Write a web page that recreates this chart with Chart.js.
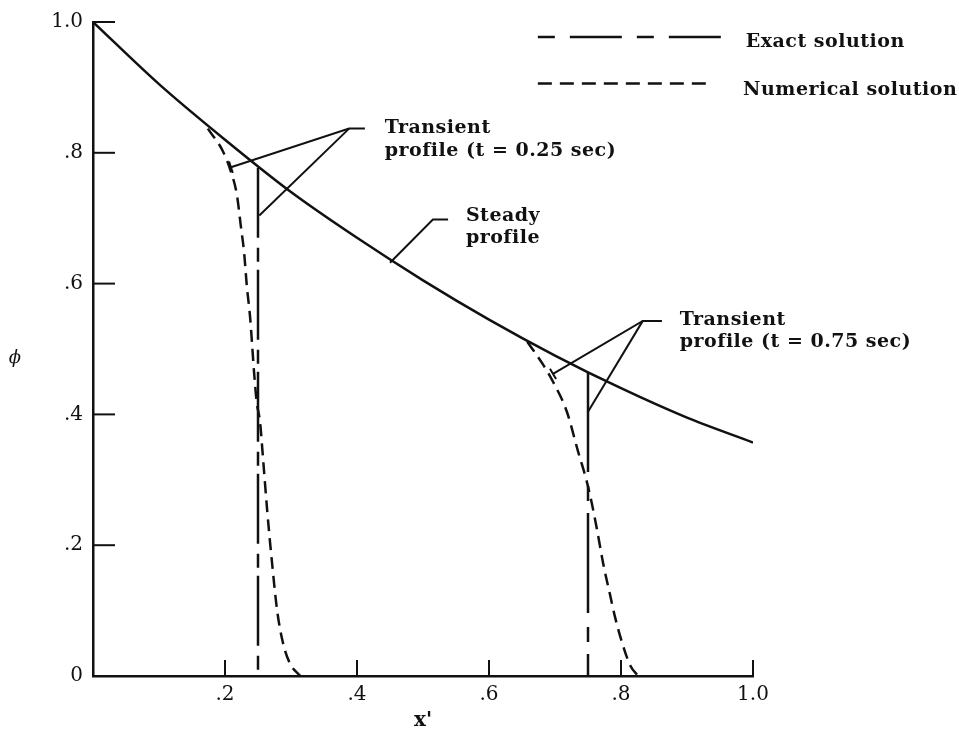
<!DOCTYPE html>
<html>
<head>
<meta charset="utf-8">
<script src="https://cdn.jsdelivr.net/npm/chart.js@4"></script>
<style>
  html, body { margin: 0; padding: 0; background: #fff; }
  #wrap { width: 959px; height: 731px; position: relative; }
</style>
</head>
<body>
<div id="wrap"><canvas id="phiChart"></canvas></div>
<script>
// steady profile (exact)
const steadyX = [0, 0.1, 0.2, 0.3, 0.4, 0.5, 0.6, 0.7, 0.8, 0.9, 1.0];
const steadyPhi = [1.0, 0.905, 0.82, 0.74, 0.67, 0.605, 0.545, 0.49, 0.44, 0.395, 0.357];

// transient profiles, exact solution (step front)
const exact25X = [0.25, 0.25];
const exact25Phi = [0.777, 0];
const exact75X = [0.75, 0.75];
const exact75Phi = [0.465, 0];

// transient profiles, numerical solution
const num25X = [0.174, 0.197, 0.209, 0.218, 0.224, 0.229, 0.233, 0.238, 0.241, 0.244, 0.248, 0.253, 0.258, 0.264, 0.271, 0.279, 0.288, 0.298, 0.314];
const num25Phi = [0.837, 0.802, 0.771, 0.736, 0.688, 0.647, 0.597, 0.549, 0.508, 0.465, 0.419, 0.389, 0.328, 0.252, 0.176, 0.100, 0.050, 0.020, 0];
const num75X = [0.658, 0.682, 0.697, 0.718, 0.735, 0.748, 0.756, 0.764, 0.773, 0.783, 0.791, 0.802, 0.814, 0.826];
const num75Phi = [0.511, 0.476, 0.450, 0.404, 0.343, 0.298, 0.263, 0.222, 0.172, 0.126, 0.090, 0.050, 0.016, 0];

// tick labels
const xTickLabels = ['', '.2', '.4', '.6', '.8', '1.0'];
const yTickLabels = ['0', '.2', '.4', '.6', '.8', '1.0'];

const INK = '#111';
const FONT = 'DejaVu Serif';

function pts(xs, ys) {
  return xs.map((x, i) => ({ x: x, y: ys[i] }));
}

// annotation layout, in data units
const labels = [
  { x: 0.442, y: [0.830, 0.795], text: ['Transient', 'profile (t = 0.25 sec)'] },
  { x: 0.565, y: [0.696, 0.662], text: ['Steady', 'profile'] },
  { x: 0.889, y: [0.536, 0.503], text: ['Transient', 'profile (t = 0.75 sec)'] }
];
const leaders = [
  [[0.412, 0.837], [0.388, 0.837], [0.209, 0.778]],
  [[0.388, 0.837], [0.252, 0.704]],
  [[0.538, 0.698], [0.515, 0.698], [0.450, 0.632]],
  [[0.862, 0.543], [0.833, 0.543], [0.697, 0.462]],
  [[0.833, 0.543], [0.750, 0.404]]
];
// small cross bars at the ends of leaders pointing at the numerical curves
const leaderBars = [
  { at: [0.209, 0.778], from: [0.388, 0.837] },
  { at: [0.697, 0.462], from: [0.833, 0.543] }
];
const legendRows = [
  { x0: 0.674, x1: 0.955, y: 0.977, dash: [17, 15, 52, 15], tx: 0.989, ty: 0.962, text: 'Exact solution' },
  { x0: 0.674, x1: 0.935, y: 0.906, dash: [14, 8], tx: 0.985, ty: 0.889, text: 'Numerical solution' }
];

const decorPlugin = {
  id: 'decor',
  afterDraw(chart) {
    const { ctx } = chart;
    const xs = chart.scales.x, ys = chart.scales.y;
    const px = v => xs.getPixelForValue(v);
    const py = v => ys.getPixelForValue(v);

    ctx.save();
    ctx.strokeStyle = INK;
    ctx.fillStyle = INK;
    ctx.lineCap = 'butt';

    // inward tick marks
    ctx.lineWidth = 2;
    ys.ticks.forEach(t => {
      if (t.value === 0) return;
      ctx.beginPath();
      ctx.moveTo(xs.left, py(t.value));
      ctx.lineTo(xs.left + 22, py(t.value));
      ctx.stroke();
    });
    xs.ticks.forEach(t => {
      if (t.value === 0) return;
      ctx.beginPath();
      ctx.moveTo(px(t.value), ys.bottom);
      ctx.lineTo(px(t.value), ys.bottom - 16);
      ctx.stroke();
    });

    // leader lines
    ctx.lineWidth = 2;
    leaders.forEach(line => {
      ctx.beginPath();
      line.forEach((p, i) => {
        if (i === 0) ctx.moveTo(px(p[0]), py(p[1]));
        else ctx.lineTo(px(p[0]), py(p[1]));
      });
      ctx.stroke();
    });
    leaderBars.forEach(b => {
      const ax = px(b.at[0]), ay = py(b.at[1]);
      const dx = ax - px(b.from[0]), dy = ay - py(b.from[1]);
      const len = Math.hypot(dx, dy);
      const nx = -dy / len * 6, ny = dx / len * 6;
      ctx.beginPath();
      ctx.moveTo(ax - nx, ay - ny);
      ctx.lineTo(ax + nx, ay + ny);
      ctx.stroke();
    });

    // text labels
    ctx.font = 'bold 19px "' + FONT + '"';
    ctx.letterSpacing = '0.5px';
    ctx.textAlign = 'left';
    ctx.textBaseline = 'alphabetic';
    labels.forEach(l => {
      l.text.forEach((s, i) => ctx.fillText(s, px(l.x), py(l.y[i])));
    });

    // legend
    ctx.lineWidth = 2.5;
    legendRows.forEach(r => {
      ctx.setLineDash(r.dash);
      ctx.beginPath();
      ctx.moveTo(px(r.x0), py(r.y));
      ctx.lineTo(px(r.x1), py(r.y));
      ctx.stroke();
      ctx.setLineDash([]);
      ctx.fillText(r.text, px(r.tx), py(r.ty));
    });
    ctx.letterSpacing = '0px';

    // y axis symbol
    ctx.font = 'italic 18px "' + FONT + '"';
    ctx.textAlign = 'center';
    ctx.textBaseline = 'middle';
    ctx.fillText('\u03D5', 15, py(0.486));
    ctx.restore();
  }
};

Chart.defaults.font.family = FONT;
Chart.defaults.font.size = 20;
Chart.defaults.color = INK;

new Chart(document.getElementById('phiChart'), {
  type: 'line',
  data: {
    datasets: [
      {
        label: 'Steady profile',
        data: pts(steadyX, steadyPhi),
        borderColor: INK,
        borderWidth: 2.5,
        cubicInterpolationMode: 'monotone'
      },
      {
        label: 'Exact t = 0.25',
        data: pts(exact25X, exact25Phi),
        borderColor: INK,
        borderWidth: 2.5,
        borderDash: [70, 10, 14, 8]
      },
      {
        label: 'Exact t = 0.75',
        data: pts(exact75X, exact75Phi),
        borderColor: INK,
        borderWidth: 2.5,
        borderDash: [100, 14, 15, 12]
      },
      {
        label: 'Numerical t = 0.25',
        data: pts(num25X, num25Phi),
        borderColor: INK,
        borderWidth: 2.5,
        borderDash: [12, 7],
        cubicInterpolationMode: 'monotone'
      },
      {
        label: 'Numerical t = 0.75',
        data: pts(num75X, num75Phi),
        borderColor: INK,
        borderWidth: 2.5,
        borderDash: [12, 7],
        cubicInterpolationMode: 'monotone'
      }
    ]
  },
  options: {
    responsive: true,
    maintainAspectRatio: false,
    animation: false,
    layout: { padding: { top: 18, right: 206, left: 0, bottom: 0 } },
    elements: { point: { radius: 0 } },
    plugins: {
      legend: { display: false },
      tooltip: { enabled: false }
    },
    scales: {
      x: {
        type: 'linear',
        min: 0,
        max: 1,
        afterFit: s => { s.height = 55; },
        grid: { display: false, drawTicks: false },
        border: { display: true, color: INK, width: 2.5 },
        ticks: {
          stepSize: 0.2,
          padding: 7,
          maxRotation: 0,
          callback: (v, i) => xTickLabels[i]
        },
        title: {
          display: true,
          text: "x'",
          font: { size: 20, weight: 'bold', lineHeight: 1 },
          padding: { top: 0, bottom: 0 }
        }
      },
      y: {
        type: 'linear',
        min: 0,
        max: 1,
        afterFit: s => { s.width = 93; },
        grid: { display: false, drawTicks: false },
        border: { display: true, color: INK, width: 2.5 },
        ticks: {
          stepSize: 0.2,
          padding: 10,
          callback: (v, i) => yTickLabels[i]
        }
      }
    }
  },
  plugins: [decorPlugin]
});
</script>
</body>
</html>
